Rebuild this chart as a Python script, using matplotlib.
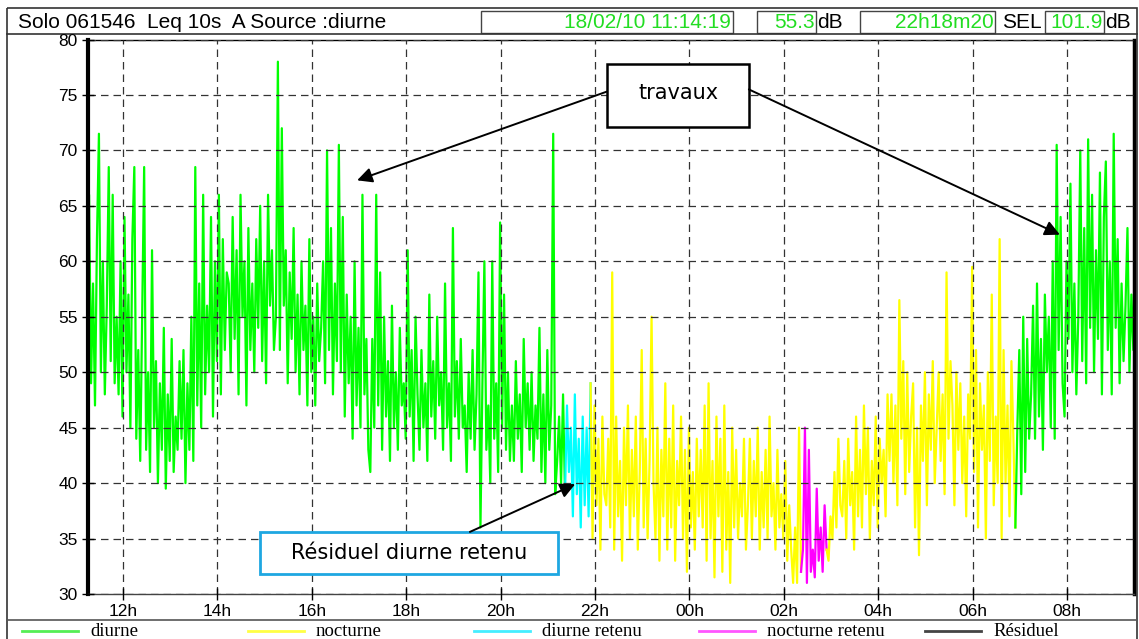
#!/usr/bin/env python3
"""Leq 10s A sonometer record, Solo 061546, 18/02/10 - recreated from screenshot."""

import numpy as np
import matplotlib.pyplot as plt
from matplotlib.patches import Rectangle
from matplotlib.lines import Line2D

plt.rcParams["font.family"] = ["Liberation Sans", "DejaVu Sans"]

W, H = 1139, 639

# Leq values (dB A), one reading every 2.5 min starting 11:14 ; one row = one hour
t_start = 11.24
t_step = 1 / 24
leq_db = [
    52, 66, 49, 58, 47, 62, 71.5, 50, 60, 48, 56, 68.5, 51, 66, 49, 55, 48, 60, 46, 64, 50, 57, 45, 62,
    68.5, 44, 52, 42, 55, 68.5, 43, 50, 41, 61, 45, 51, 40, 49, 43, 54, 39.5, 48, 42, 53, 41, 46, 43, 51,
    44, 52, 40, 49, 43, 55, 42, 68.5, 47, 58, 45, 66, 48, 56, 50, 64, 46, 60, 51, 66, 48, 62, 52, 59,
    58, 50, 64, 53, 61, 48, 66, 55, 60, 47, 63, 52, 58, 50, 62, 54, 65, 51, 60, 49, 66, 56, 61, 52,
    55, 78, 52, 72, 56, 61, 49, 59, 53, 63, 50, 57, 48, 60, 52, 56, 47, 62, 50, 55, 47, 58, 51, 54,
    60, 49, 70, 52, 63, 48, 58, 51, 70.5, 50, 64, 46, 57, 49, 55, 44, 60, 47, 54, 45, 66, 48, 53, 43,
    41, 53, 45, 66, 47, 59, 43, 55, 46, 51, 42, 56, 45, 50, 43, 54, 47, 49, 44, 61, 46, 52, 42, 55,
    48, 43, 52, 45, 49, 42, 57, 46, 51, 44, 55, 47, 50, 43, 58, 45, 49, 42, 63, 46, 51, 44, 53, 45,
    47, 41, 50, 44, 52, 43, 48, 59, 36, 49, 60, 43, 47, 40, 60, 44, 49, 41, 63.5, 45, 57, 43, 50, 42,
    47, 42, 51, 44, 48, 41, 53, 45, 49, 43, 50, 42, 47, 44, 54, 41, 48, 40, 52, 43, 47, 71.5, 39, 42,
    46, 40, 48, 39, 47, 41, 45, 37, 48, 39, 44, 36, 46, 38, 45, 37, 49, 35, 47, 38, 44, 34, 46, 39,
    38, 44, 36, 59, 34, 46, 37, 42, 33, 45, 38, 47, 35, 43, 37, 46, 34, 41, 52, 36, 44, 35, 42, 55,
    40, 35, 45, 33, 43, 37, 49, 34, 44, 36, 47, 33, 42, 38, 46, 35, 43, 32, 45, 36, 41, 34, 44, 37,
    43, 36, 47, 33, 49, 35, 42, 31.5, 46, 37, 44, 32, 47, 34, 41, 31, 45, 36, 43, 35, 40, 37, 44, 34,
    38, 44, 35, 42, 37, 45, 34, 41, 36, 43, 35, 46, 37, 40, 34, 43, 36, 39, 35, 42, 33, 38, 34, 31,
    36, 31, 45, 32, 34, 45, 31, 43, 32, 34, 31.5, 39.5, 33, 36, 32, 38, 34, 33, 37, 35, 41, 36, 44, 38,
    37, 42, 35, 44, 38, 41, 34, 46, 37, 43, 36, 47, 39, 45, 35, 42, 38, 46, 36, 44, 40, 43, 37, 48,
    42, 48, 40, 47, 38, 56.5, 44, 51, 39, 50, 41, 46, 49, 36, 45, 33.5, 47, 42, 50, 38, 48, 43, 51, 40,
    45, 50, 42, 48, 39, 59, 44, 51, 47, 38, 50, 43, 49, 40, 46, 37, 48, 44, 59.5, 41, 52, 36, 49, 43,
    47, 35, 50, 42, 57, 38, 46, 40, 62, 35, 52, 40, 47, 37, 51, 44, 36, 45, 52, 39, 55, 41, 53, 44,
    48, 56, 44, 58, 46, 53, 43, 57, 50, 55, 45, 60, 44, 70.5, 52, 64, 49, 46, 60, 53, 67, 50, 58, 48,
    55, 70, 51, 63, 49, 71, 54, 66, 50, 61, 53, 68, 48, 64, 69, 52, 60, 48, 71.5, 54, 62, 49, 58, 51,
    56, 63, 50, 57, 52, 55, 47, 54,
]

# codage des périodes (heures, >24 = lendemain)
period_start = [11.24, 21.40, 21.93, 26.40, 26.92, 30.93]
period_end = [21.40, 21.93, 26.40, 26.92, 30.93, 33.60]
period_source = ["diurne", "diurne retenu", "nocturne", "nocturne retenu", "nocturne", "diurne"]

source_colors = {
    "diurne": "#00FF00",
    "nocturne": "#FFFF00",
    "diurne retenu": "#00FFFF",
    "nocturne retenu": "#FF00FF",
    "Résiduel": "#444444",
}
legend_labels = ["diurne", "nocturne", "diurne retenu", "nocturne retenu", "Résiduel"]
legend_line_colors = ["#55EE55", "#FFFF44", "#44EEFF", "#FF55FF", "#444444"]
legend_x = [22, 248, 474, 699, 925]

hour_ticks = [12, 14, 16, 18, 20, 22, 24, 26, 28, 30, 32]
hour_labels = ["12h", "14h", "16h", "18h", "20h", "22h", "00h", "02h", "04h", "06h", "08h"]
db_ticks = [30, 35, 40, 45, 50, 55, 60, 65, 70, 75, 80]

t = t_start + np.arange(len(leq_db)) * t_step
leq = np.array(leq_db)

fig = plt.figure(figsize=(W / 100, H / 100), dpi=100)
fig.patch.set_facecolor("white")

# ═══ overlay in pixel coords : cadre, en-tête, légende ═══
ov = fig.add_axes([0, 0, 1, 1], zorder=0)
ov.set_xlim(0, W)
ov.set_ylim(H, 0)
ov.axis("off")

ov.add_patch(Rectangle((7, 8), 1130, 640, fill=False, ec="#333333", lw=1.2))
ov.plot([7, 1137], [34, 34], color="#333333", lw=1.2)
ov.plot([7, 1137], [620, 620], color="#555555", lw=1.2)

green_txt = "#22DD22"
for (x0, w) in [(481, 252), (757, 59), (860, 135), (1045, 59)]:
    ov.add_patch(Rectangle((x0, 11), w, 22, fill=False, ec="#444444", lw=1))
ov.text(18, 22, "Solo 061546  Leq 10s  A Source :diurne", fontsize=15, va="center")
ov.text(731, 22, "18/02/10 11:14:19", fontsize=15, va="center", ha="right", color=green_txt)
ov.text(815, 22, "55.3", fontsize=15, va="center", ha="right", color=green_txt)
ov.text(817, 22, "dB", fontsize=15, va="center")
ov.text(994, 22, "22h18m20", fontsize=15, va="center", ha="right", color=green_txt)
ov.text(1002, 22, "SEL", fontsize=15, va="center")
ov.text(1103, 22, "101.9", fontsize=15, va="center", ha="right", color=green_txt)
ov.text(1105, 22, "dB", fontsize=15, va="center")

for lab, col, x0 in zip(legend_labels, legend_line_colors, legend_x):
    ov.add_line(Line2D([x0, x0 + 56], [631, 631], color=col, lw=2))
    ov.text(x0 + 68, 631, lab, fontsize=13.5, va="center", family="Liberation Serif")

# ═══ graphe principal ═══
ax = fig.add_axes([87.5 / W, 1 - 594 / H, (1134 - 87.5) / W, (594 - 39.5) / H], zorder=1)

for a, b, src in zip(period_start, period_end, period_source):
    i0 = max(np.searchsorted(t, a) - 1, 0)
    i1 = np.searchsorted(t, b)
    ax.plot(t[i0:i1], leq[i0:i1], color=source_colors[src], lw=1.6, zorder=2)

ax.set_xlim(11.248, 33.42)
ax.set_ylim(30, 80)
ax.set_xticks(hour_ticks)
ax.set_xticklabels(hour_labels)
ax.set_yticks(db_ticks)
ax.tick_params(direction="inout", length=8, width=1, labelsize=12.5, pad=3)
ax.grid(True, color="#333333", linestyle=(0, (6, 4)), lw=0.9)
ax.set_axisbelow(False)

ax.spines["left"].set_linewidth(3)
ax.spines["right"].set_linewidth(2.5)
ax.spines["top"].set_linewidth(1)
ax.spines["bottom"].set_linewidth(1)
ax.spines["bottom"].set_color("#444444")

# annotations
ax.add_patch(Rectangle((22.25, 72.15), 3.01, 5.68, fill=True, fc="white", ec="black",
                       lw=1.8, zorder=5, clip_on=False))
ax.text(23.78, 75.2, "travaux", fontsize=15, family="DejaVu Sans", ha="center", va="center", zorder=6)
arrow = dict(arrowstyle="-|>,head_length=0.9,head_width=0.45", color="black", lw=1.4,
             shrinkA=0, shrinkB=0)
ax.annotate("", xy=(16.96, 67.3), xytext=(22.25, 75.3), arrowprops=arrow, zorder=5)
ax.annotate("", xy=(31.85, 62.4), xytext=(25.26, 75.5), arrowprops=arrow, zorder=5)

ax.add_patch(Rectangle((14.90, 31.8), 6.32, 3.8, fill=True, fc="white", ec="#1EA7E1",
                       lw=2, zorder=5))
ax.text(18.06, 33.7, "Résiduel diurne retenu", fontsize=15, family="DejaVu Sans",
        ha="center", va="center", zorder=6)
ax.annotate("", xy=(21.58, 39.9), xytext=(19.35, 35.6), arrowprops=arrow, zorder=5)

plt.savefig("out.png", dpi=100, facecolor="white")
plt.close()
